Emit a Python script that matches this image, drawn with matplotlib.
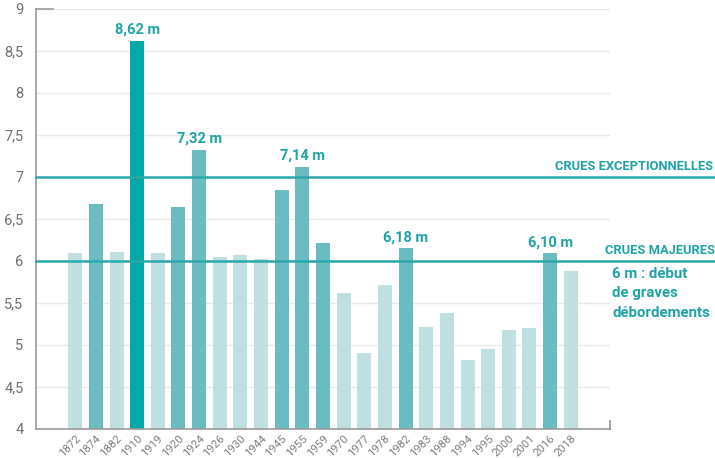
import matplotlib
matplotlib.use("Agg")
from matplotlib import pyplot as plt

plt.rcParams["font.family"] = ["Roboto", "DejaVu Sans"]

# ============
# Data
# ============
years = ["1872", "1874", "1882", "1910", "1919", "1920", "1924", "1926", "1930",
         "1944", "1945", "1955", "1959", "1970", "1977", "1978", "1982", "1983",
         "1988", "1994", "1995", "2000", "2001", "2016", "2018"]
heights = [6.10, 6.68, 6.11, 8.62, 6.10, 6.64, 7.32, 6.05, 6.07,
           6.02, 6.85, 7.12, 6.21, 5.62, 4.90, 5.72, 6.15, 5.21,
           5.38, 4.82, 4.95, 5.18, 5.20, 6.09, 5.88]
# 0 = light, 1 = medium, 2 = dark
levels = [0, 1, 0, 2, 0, 1, 1, 0, 0,
          0, 1, 1, 1, 0, 0, 0, 1, 0,
          0, 0, 0, 0, 0, 1, 0]
labelled = {"1910": "8,62 m", "1924": "7,32 m", "1955": "7,14 m",
            "1982": "6,18 m", "2016": "6,10 m"}

palette = ["#bfdfe1", "#6bbcc0", "#00a8aa"]
teal = "#1fa3a6"
grey = "#999999"

fig = plt.figure(figsize=(7.15, 4.58), dpi=100)
ax = fig.add_axes([36 / 715, 1 - 429 / 458, (610 - 36) / 715, (429 - 9) / 458])

x = list(range(len(years)))
ax.bar(x, [h - 4 for h in heights], bottom=4, width=0.68,
       color=[palette[l] for l in levels], zorder=2)

ax.set_xlim(-1.9, len(years) - 1 + 1.9)
ax.set_ylim(4, 9)
ax.set_yticks([4, 4.5, 5, 5.5, 6, 6.5, 7, 7.5, 8, 8.5, 9])
ax.set_yticklabels(["4", "4,5", "5", "5,5", "6", "6,5", "7", "7,5", "8", "8,5", "9"],
                   color="#707070", fontsize=10.5)
ax.set_xticks(x)
ax.set_xticklabels(years, rotation=45, ha="right", rotation_mode="anchor",
                   color="#808080", fontsize=8.2)
ax.tick_params(axis="both", length=0)
ax.tick_params(axis="x", pad=3)
ax.tick_params(axis="y", pad=9)
ax.grid(axis="y", color="#e8e8e8", linewidth=1, zorder=0)

for side in ["top", "right"]:
    ax.spines[side].set_visible(False)
for side in ["left", "bottom"]:
    ax.spines[side].set_color(grey)
    ax.spines[side].set_linewidth(1.2)

# small end marks on the axes
ax.plot([0, 0.03], [9, 9], color=grey, lw=1.2, transform=ax.get_yaxis_transform(),
        clip_on=False, zorder=3)
ax.plot([1, 1], [4, 4.1], color=grey, lw=1.2, transform=ax.get_yaxis_transform(),
        clip_on=False, zorder=3)

# threshold lines
xmax = (715 - 36) / (610 - 36)
for lvl in [6, 7]:
    ax.axhline(lvl, xmin=0, xmax=xmax, color="#2aa9ab", lw=1.8, clip_on=False, zorder=3)

ax.text(1.18, 7.05, "CRUES EXCEPTIONNELLES", transform=ax.get_yaxis_transform(),
        ha="right", va="bottom", color=teal, fontsize=9.3, fontweight="bold")
ax.text(1.183, 6.05, "CRUES MAJEURES", transform=ax.get_yaxis_transform(),
        ha="right", va="bottom", color=teal, fontsize=9.3, fontweight="bold")
ax.text(1.004, 5.93, "6 m : début\nde graves\ndébordements",
        transform=ax.get_yaxis_transform(), ha="left", va="top",
        color=teal, fontsize=10.8, fontweight="bold", linespacing=1.5)

for i, y in enumerate(years):
    if y in labelled:
        ax.text(i, heights[i] + 0.05, labelled[y], ha="center", va="bottom",
                color=teal, fontsize=10.5, fontweight="bold")

fig.savefig("out.png", dpi=100)
